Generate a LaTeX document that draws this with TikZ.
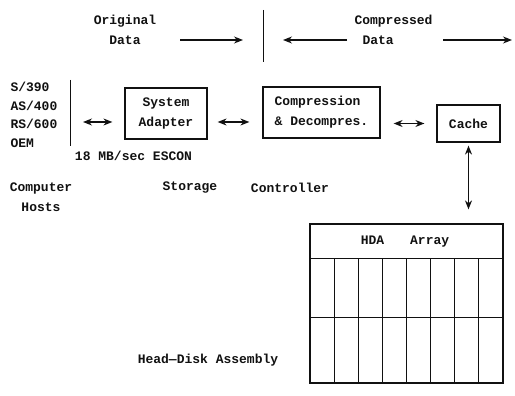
\documentclass[tikz,border=0pt]{standalone}
\usepackage{fontspec}
\setmonofont{Liberation Mono}
\usetikzlibrary{arrows.meta,positioning}
\definecolor{Ink}{HTML}{111111}
\tikzset{>={Stealth[length=9pt,width=7pt]},every node/.style={font=\ttfamily\bfseries\fontsize{13}{20}\selectfont,text=Ink},
 block/.style={draw=Ink,line width=1.2pt,align=center,inner sep=0pt},
 link/.style={draw=Ink,line width=1.2pt,<->},flow/.style={draw=Ink,line width=1.2pt,->},
 rule/.style={draw=Ink,line width=1pt}}

\begin{document}
\begin{tikzpicture}[x=1pt,y=-1pt]
\useasboundingbox (0,0) rectangle (515,396);
% top legend
\node[align=center] (orig) at (125,30) {Original\\Data};
\node[align=left,anchor=west] (comp) at (351,30) {Compressed\\\hspace*{8pt}Data};
\coordinate (o1) at (180,40); \coordinate (o2) at (243,40);
\coordinate (c1) at (347,40); \coordinate (c2) at (283,40);
\coordinate (c3) at (443,40); \coordinate (c4) at (512,40);
\draw[flow] (o1)--(o2);
\draw[flow] (c1)--(c2);
\draw[flow] (c3)--(c4);
\draw[rule] (263,10)--(263,62);
% hosts and controller
\node[align=left,anchor=north west,font=\ttfamily\bfseries\fontsize{13}{18.5}\selectfont] (hosts) at (7,79) {S/390\\AS/400\\RS/600\\OEM};
\draw[rule] (70,80)--(70,146);
\node[block,minimum width=82,minimum height=51] (sa) at (166,113.5) {System\\Adapter};
\node[block,minimum width=117,minimum height=51,align=left] (cd) at (321.5,112.5) {Compression\\\& Decompres.};
\node[block,minimum width=63,minimum height=37] (cache) at (468.5,123.5) {Cache};
\coordinate (bus) at (83,122);
\draw[link] (bus)--([shift={(-12,8.5)}]sa.west);
\draw[link] ([shift={(10,8.5)}]sa.east)--([shift={(-13,9.5)}]cd.west);
\draw[link] ([xshift=13]cd.east |- cache.west)--([xshift=-12]cache.west);
\node (escon) at (133.5,156) {18 MB/sec ESCON};
\node[align=center] (comphosts) at (41,197) {Computer\\Hosts};
\node (storage) at (190,188) {Storage};
\node (ctrl) at (290,188) {Controller};
% disk array
\node[draw=Ink,line width=1.2pt,minimum width=193,minimum height=159,inner sep=0pt] (hda) at (406.5,303.5) {};
\draw[link] ([yshift=-3]cache.south)--([yshift=14]hda.north -| cache.south);
\draw[rule] (310,258)--(503,258);
\draw[rule] (310,317)--(503,317);
\foreach \x in {1,...,7}\draw[rule] ({310+\x*24.1},258)--({310+\x*24.1},383);
\node (hdalab) at (405,242) {HDA\hspace{26pt}Array};
\node (assy) at (208,360) {Head—Disk Assembly};
\end{tikzpicture}
\end{document}
